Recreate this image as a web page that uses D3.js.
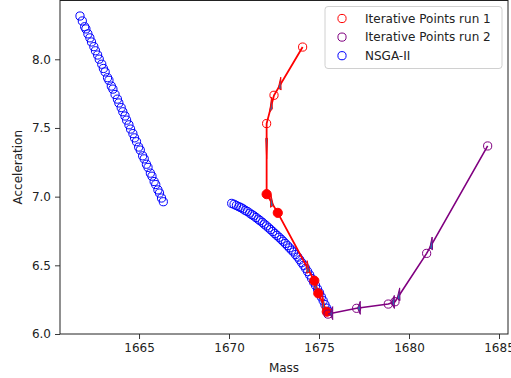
<!DOCTYPE html>
<html>
<head>
<meta charset="utf-8">
<script src="https://cdnjs.cloudflare.com/ajax/libs/d3/7.8.5/d3.min.js"></script>
<style>
body { margin: 0; background: #fff; }
svg { font-family: "DejaVu Sans", sans-serif; }
</style>
</head>
<body>
<div id="chart"></div>
<script>
// tick values
var xTicks = [1665, 1670, 1675, 1680, 1685];
var yTicks = [6.0, 6.5, 7.0, 7.5, 8.0];

// iterative run 1 (red)
var run1Mass = [1674.09, 1672.50, 1672.09, 1672.09, 1672.71, 1674.74, 1674.96, 1675.43];
var run1Acc = [8.089, 7.738, 7.532, 7.018, 6.882, 6.388, 6.296, 6.162];
var run1Filled = [false, false, false, true, true, true, true, true];
// where the arrow tip sits along each segment
var run1ArrowPos = [0.85, 0.6, 0.5, 0.6, 0.87, 0.8, 0.8];

// iterative run 2 (purple)
var run2Mass = [1684.37, 1680.98, 1679.22, 1678.85, 1677.09, 1675.50];
var run2Acc = [7.369, 6.587, 6.235, 6.218, 6.187, 6.145];
var run2ArrowPos = [0.95, 0.93, 0.5, 0.97, 0.93];

// NSGA-II front
var nsgaMass = [
    1661.72, 1661.85, 1661.98, 1662.05, 1662.16, 1662.27, 1662.36, 1662.49, 1662.58, 1662.70,
    1662.79, 1662.93, 1663.02, 1663.12, 1663.25, 1663.33, 1663.46, 1663.55, 1663.67, 1663.80,
    1663.88, 1664.01, 1664.10, 1664.22, 1664.31, 1664.44, 1664.53, 1664.66, 1664.75, 1664.86,
    1664.98, 1665.07, 1665.20, 1665.29, 1665.41, 1665.50, 1665.63, 1665.72, 1665.84, 1665.93,
    1666.05, 1666.14, 1666.25, 1666.35,
    1670.15, 1670.28, 1670.41, 1670.55, 1670.66, 1670.78, 1670.90, 1671.02, 1671.15, 1671.27,
    1671.38, 1671.50, 1671.62, 1671.73, 1671.85, 1671.96, 1672.08, 1672.20, 1672.31, 1672.43,
    1672.55, 1672.66, 1672.78, 1672.90, 1673.01, 1673.13, 1673.25, 1673.36, 1673.48, 1673.59,
    1673.70, 1673.82, 1673.93, 1674.04, 1674.15, 1674.26, 1674.37, 1674.48, 1674.59, 1674.70,
    1674.81, 1674.92, 1675.03, 1675.13, 1675.23, 1675.33, 1675.43, 1675.52
];
var nsgaAcc = [
    8.315, 8.279, 8.237, 8.221, 8.185, 8.156, 8.126, 8.092, 8.062, 8.031,
    8.001, 7.964, 7.933, 7.908, 7.866, 7.847, 7.805, 7.783, 7.744, 7.710,
    7.682, 7.648, 7.618, 7.587, 7.557, 7.523, 7.492, 7.459, 7.428, 7.400,
    7.361, 7.339, 7.297, 7.275, 7.236, 7.213, 7.171, 7.149, 7.110, 7.088,
    7.049, 7.026, 6.990, 6.963,
    6.951, 6.944, 6.935, 6.927, 6.920, 6.911, 6.900, 6.892, 6.880, 6.869,
    6.860, 6.848, 6.836, 6.825, 6.813, 6.800, 6.787, 6.773, 6.760, 6.746,
    6.731, 6.718, 6.704, 6.689, 6.675, 6.659, 6.643, 6.627, 6.611, 6.597,
    6.578, 6.560, 6.540, 6.519, 6.500, 6.478, 6.454, 6.430, 6.404, 6.378,
    6.353, 6.326, 6.299, 6.270, 6.243, 6.214, 6.188, 6.166
];

var legendLabels = ["Iterative Points run 1", "Iterative Points run 2", "NSGA-II"];
var legendColors = ["red", "purple", "blue"];

var width = 511, height = 378;
var plot = {left: 60, right: 508, top: 0.5, bottom: 334};

var svg = d3.select("#chart").append("svg")
    .attr("width", width)
    .attr("height", height);

var x = d3.scaleLinear()
    .domain([1660.61, 1685.5])
    .range([plot.left, plot.right]);

var y = d3.scaleLinear()
    .domain([6.0, 8.428])
    .range([plot.bottom, plot.top]);

// axes
var xAxis = svg.append("g")
    .attr("transform", "translate(0," + plot.bottom + ")")
    .call(d3.axisBottom(x).tickValues(xTicks).tickSize(5).tickPadding(4).tickFormat(d3.format("d")));

var yAxis = svg.append("g")
    .attr("transform", "translate(" + plot.left + ",0)")
    .call(d3.axisLeft(y).tickValues(yTicks).tickSize(5).tickPadding(4).tickFormat(d3.format(".1f")));

[xAxis, yAxis].forEach(function(g){
    g.select(".domain").remove();
    g.selectAll("text").attr("font-size", 12).attr("fill", "#222").attr("font-family", "DejaVu Sans");
    g.selectAll("line").attr("stroke", "#222").attr("stroke-width", 0.9);
});

svg.append("text")
    .attr("x", (plot.left + plot.right) / 2)
    .attr("y", 372)
    .attr("text-anchor", "middle")
    .attr("font-size", 12)
    .attr("fill", "#222")
    .text("Mass");

svg.append("text")
    .attr("transform", "translate(22," + (plot.top + plot.bottom) / 2 + ") rotate(-90)")
    .attr("text-anchor", "middle")
    .attr("font-size", 12)
    .attr("fill", "#222")
    .text("Acceleration");

// NSGA-II points
svg.append("g").selectAll("circle")
    .data(nsgaMass)
    .enter()
    .append("circle")
    .attr("cx", function(d){ return x(d); })
    .attr("cy", function(d, i){ return y(nsgaAcc[i]); })
    .attr("r", 4.1)
    .attr("fill", "none")
    .attr("stroke", "blue")
    .attr("stroke-width", 1);

// arrow head built in data units like matplotlib's FancyArrow, then mapped to pixels
function arrowHead(x0, y0, x1, y1, f){
    var hw = 0.095, hl = 0.15;
    var dx = x1 - x0, dy = y1 - y0;
    var len = Math.sqrt(dx*dx + dy*dy);
    var ux = dx/len, uy = dy/len;
    var tx = x0 + f*dx, ty = y0 + f*dy;
    var bx = tx - hl*ux, by = ty - hl*uy;
    var nx = -uy*hw/2, ny = ux*hw/2;
    return [[x(tx), y(ty)], [x(bx + nx), y(by + ny)], [x(bx - nx), y(by - ny)]];
}

function drawRun(mass, acc, filled, arrowPos, color, lw){
    var g = svg.append("g");
    var line = d3.line()
        .x(function(d){ return x(d); })
        .y(function(d, i){ return y(acc[i]); });

    g.append("path")
        .datum(mass)
        .attr("d", line)
        .attr("fill", "none")
        .attr("stroke", color)
        .attr("stroke-width", lw);

    for(var i = 0; i < mass.length - 1; i++){
        var pts = arrowHead(mass[i], acc[i], mass[i+1], acc[i+1], arrowPos[i]);
        g.append("polygon")
            .attr("points", pts.map(function(p){ return p.join(","); }).join(" "))
            .attr("fill", "#1f77b4")
            .attr("stroke", color)
            .attr("stroke-width", 1);
    }

    g.selectAll("circle")
        .data(mass)
        .enter()
        .append("circle")
        .attr("cx", function(d){ return x(d); })
        .attr("cy", function(d, i){ return y(acc[i]); })
        .attr("r", function(d, i){ return filled && filled[i] ? 4.6 : 4.1; })
        .attr("fill", function(d, i){ return filled && filled[i] ? color : "none"; })
        .attr("stroke", color)
        .attr("stroke-width", 1);
}

drawRun(run1Mass, run1Acc, run1Filled, run1ArrowPos, "red", 1.8);
drawRun(run2Mass, run2Acc, null, run2ArrowPos, "purple", 1.6);

// frame
svg.append("rect")
    .attr("x", plot.left)
    .attr("y", plot.top)
    .attr("width", plot.right - plot.left)
    .attr("height", plot.bottom - plot.top)
    .attr("fill", "none")
    .attr("stroke", "#222")
    .attr("stroke-width", 1);

// legend
var legend = svg.append("g").attr("transform", "translate(325,6.5)");
legend.append("rect")
    .attr("width", 177)
    .attr("height", 62)
    .attr("rx", 3)
    .attr("fill", "white")
    .attr("fill-opacity", 0.8)
    .attr("stroke", "#d0d0d0");

var items = legend.selectAll(".item")
    .data(legendLabels)
    .enter()
    .append("g")
    .attr("transform", function(d, i){ return "translate(0," + (12 + i*18.6) + ")"; });

items.append("circle")
    .attr("cx", 17)
    .attr("r", 4.1)
    .attr("fill", "none")
    .attr("stroke", function(d, i){ return legendColors[i]; })
    .attr("stroke-width", 1);

items.append("text")
    .attr("x", 40)
    .attr("dy", "0.36em")
    .attr("font-size", 12)
    .attr("fill", "#222")
    .text(function(d){ return d; });
</script>
</body>
</html>
